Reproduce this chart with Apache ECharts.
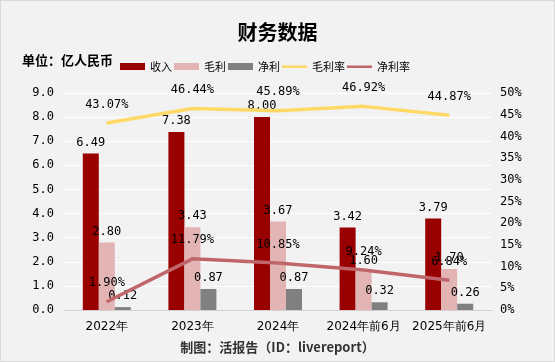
<!DOCTYPE html>
<html><head><meta charset="utf-8">
<script src="https://cdn.jsdelivr.net/npm/echarts@6/dist/echarts.min.js"></script>
<style>html,body{margin:0;padding:0;background:#fff}#c{width:553px;height:360px;border:1px solid #d9d9d9;background:#f2f2f2}</style>
</head><body><div id="c"></div>
<script>
const categories = ['2022年','2023年','2024年','2024年前6月','2025年前6月'];
const revenue = [6.49, 7.38, 8.00, 3.42, 3.79];
const grossProfit = [2.80, 3.43, 3.67, 1.60, 1.70];
const netProfit = [0.12, 0.87, 0.87, 0.32, 0.26];
const grossMargin = [43.07, 46.44, 45.89, 46.92, 44.87];
const netMargin = [1.90, 11.79, 10.85, 9.24, 6.84];

const chart = echarts.init(document.getElementById('c'));
const lblFont = 'SimSun, "DejaVu Sans Mono", monospace';
const barLabel = {show:true, position:'top', color:'#000', fontSize:12, fontFamily:lblFont, distance:5, formatter: p => p.value.toFixed(2)};
const lineLabel = {show:true, position:'top', color:'#000', fontSize:12, fontFamily:lblFont, distance:12, formatter: p => p.value.toFixed(2)+'%'};
const lineIcon = 'path://M0,0 M0,2.5 L25,2.5 L25,5 L0,5 Z M25,7';
chart.setOption({
  backgroundColor:'#f2f2f2',
  title:{text:'财务数据', left:'center', top:16, textStyle:{fontSize:20, fontWeight:'bold', color:'#000', fontFamily:'"Noto Sans CJK SC", sans-serif'}},
  graphic:[
    {type:'text', left:21, top:53, style:{text:'单位：亿人民币', fill:'#000', font:'bold 13px "Noto Sans CJK SC", sans-serif'}},
    {type:'text', left:'center', top:340, style:{text:'制图：活报告（ID：livereport）', fill:'#333', font:'bold 13px "Noto Sans CJK SC", sans-serif'}}
  ],
  legend:{left:114, top:55, itemWidth:25, itemHeight:7, itemGap:2,
    textStyle:{fontSize:11, color:'#000', fontFamily:'"Noto Sans CJK SC", sans-serif'},
    data:[{name:'收入', icon:'rect'},{name:'毛利', icon:'rect'},{name:'净利', icon:'rect'},{name:'毛利率', icon:lineIcon},{name:'净利率', icon:lineIcon}]},
  grid:{left:63, right:62, top:92, bottom:51},
  xAxis:{type:'category', data:categories, axisTick:{show:false},
    axisLine:{lineStyle:{color:'#d0d0d0'}},
    axisLabel:{interval:0, color:'#000', fontSize:12, fontFamily:'"DejaVu Sans", sans-serif', margin:11}},
  yAxis:[
    {type:'value', min:0, max:9, interval:1, axisLine:{show:false}, axisTick:{show:false},
     splitLine:{lineStyle:{color:'#ffffff', width:1}},
     axisLabel:{color:'#000', fontSize:12, fontFamily:lblFont, formatter: v => v.toFixed(1), margin:10}},
    {type:'value', min:0, max:50, interval:5, axisLine:{show:false}, axisTick:{show:false},
     splitLine:{show:false},
     axisLabel:{color:'#000', fontSize:12, fontFamily:lblFont, formatter: v => v+'%', margin:8}}
  ],
  series:[
    {name:'收入', type:'bar', data:revenue, barWidth:16, barGap:'0%', itemStyle:{color:'#990000'}, label:barLabel},
    {name:'毛利', type:'bar', data:grossProfit, barWidth:16, barGap:'0%', itemStyle:{color:'#e2b4b4'}, label:barLabel},
    {name:'净利', type:'bar', data:netProfit, barWidth:16, barGap:'0%', itemStyle:{color:'#808080'}, label:barLabel},
    {name:'毛利率', type:'line', yAxisIndex:1, data:grossMargin, symbol:'circle', symbolSize:1, showSymbol:true, lineStyle:{color:'#ffd966', width:3.5}, itemStyle:{color:'#ffd966'}, label:lineLabel},
    {name:'净利率', type:'line', yAxisIndex:1, data:netMargin, symbol:'circle', symbolSize:1, showSymbol:true, lineStyle:{color:'#c0666a', width:3.5}, itemStyle:{color:'#c0666a'}, label:lineLabel}
  ]
});
</script></body></html>
